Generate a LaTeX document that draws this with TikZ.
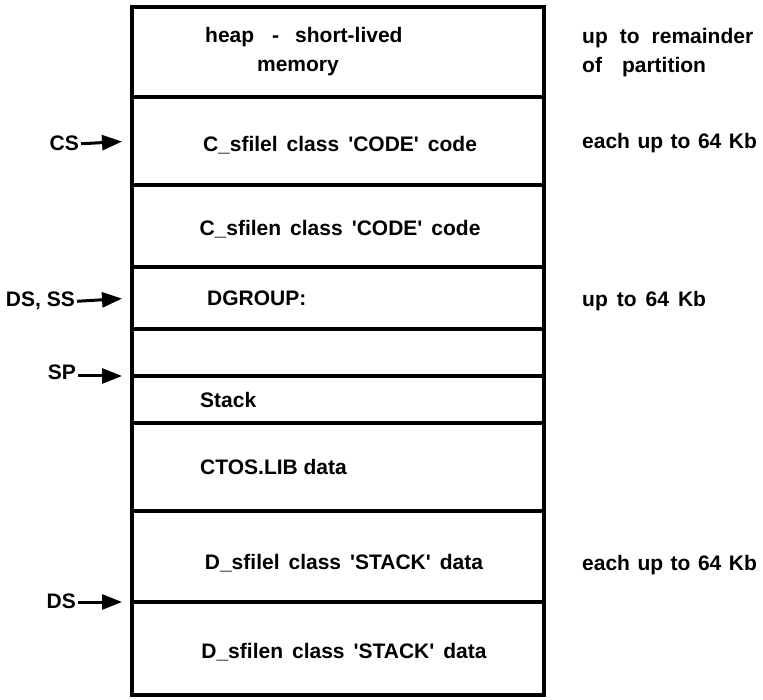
\documentclass[tikz,border=0pt]{standalone}
\usepackage{fontspec}
\setmainfont{Liberation Sans}
\usetikzlibrary{arrows.meta}
\newcommand\myws{\hspace{9pt}}
\begin{document}
\begin{tikzpicture}[x=1pt,y=-1pt,
  cell/.style={draw, line width=3.4pt, minimum width=412pt, inner sep=0pt, outer sep=0pt},
  txt/.style={font=\fontsize{21}{29}\selectfont\bfseries, inner sep=0pt, anchor=base west},
  ctxt/.style={txt, anchor=base},
  ptr/.style={line width=3pt, -{Triangle[length=20pt,width=15pt]}, shorten >=10pt}]
\useasboundingbox (0,0) rectangle (763,700);
% memory cells
\node[cell, minimum height=90pt] (heap)  at (338,52)  {};
\node[cell, minimum height=88pt] (c1)    at (338,141) {};
\node[cell, minimum height=82pt] (c2)    at (338,226) {};
\node[cell, minimum height=62pt] (dg)    at (338,298) {};
\node[cell, minimum height=47pt] (gap)   at (338,352.5) {};
\node[cell, minimum height=47pt] (stack) at (338,399.5) {};
\node[cell, minimum height=88pt] (ctos)  at (338,467) {};
\node[cell, minimum height=91pt] (d1)    at (338,556.5) {};
\node[cell, minimum height=93pt] (d2)    at (338,648.5) {};
% cell texts
\node[txt] (theap) at (205,43) {heap\hspace{18pt}-\hspace{16pt}short-lived};
\node[ctxt] (tmem) at (298,72) {memory};
\node[ctxt] (tc1) at (340,152) {C\_sfilel\myws class\myws \textquotesingle CODE\textquotesingle\myws code};
\node[ctxt] (tc2) at (340,236) {C\_sfilen\myws class\myws \textquotesingle CODE\textquotesingle\myws code};
\node[txt] (tdg) at (207,306) {DGROUP:};
\node[txt] (tst) at (200,408) {Stack};
\node[txt] (tct) at (200,474) {CTOS.LIB data};
\node[ctxt] (td1) at (344,569) {D\_sfilel\myws class\myws \textquotesingle STACK\textquotesingle\myws data};
\node[ctxt] (td2) at (344,658) {D\_sfilen\myws class\myws \textquotesingle STACK\textquotesingle\myws data};
% right notes
\node[txt] (n1) at (582,44) {up\hspace{12pt}to\hspace{12pt}remainder};
\node[txt] (n1b) at (582,73) {of\hspace{20pt}partition};
\node[txt] (n2) at (582,149) {each\hspace{7.5pt}up\hspace{7.5pt}to\hspace{7.5pt}64\hspace{7.5pt}Kb};
\node[txt] (n3) at (582,307) {up\hspace{9pt}to\hspace{9pt}64\hspace{9pt}Kb};
\node[txt] (n4) at (582,570) {each\hspace{7.5pt}up\hspace{7.5pt}to\hspace{7.5pt}64\hspace{7.5pt}Kb};
% pointer labels
\node[txt, anchor=base east] (lcs) at (79,151) {CS};
\node[txt, anchor=base east] (lds) at (75,307) {DS, SS};
\node[txt, anchor=base east] (lsp) at (76,380) {SP};
\node[txt, anchor=base east] (ld2) at (76,608) {DS};
\draw[ptr] ([xshift=2pt]lcs.east) -- (c1.west);
\draw[ptr] ([xshift=2pt]lds.east) -- (dg.west);
\draw[ptr] ([xshift=2pt]lsp.east |- gap.south west) -- (gap.south west);
\draw[ptr] ([xshift=2pt]ld2.east |- d1.south west) -- (d1.south west);
\end{tikzpicture}
\end{document}
